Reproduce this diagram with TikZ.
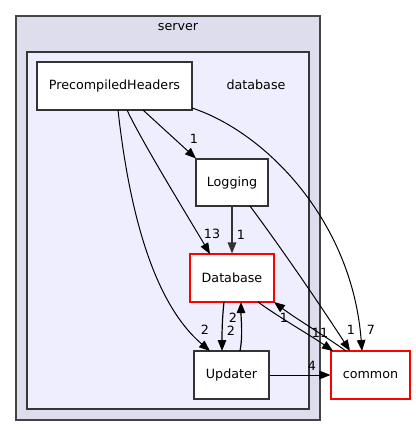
\documentclass[tikz,border=0pt]{standalone}
\usepackage{fontspec}
\setmainfont{DejaVu Sans}
\usetikzlibrary{arrows.meta}
\definecolor{outerfill}{HTML}{DDDDEE}
\definecolor{innerfill}{HTML}{EEEEFF}
\definecolor{clusterborder}{HTML}{444444}
\begin{document}
\begin{tikzpicture}[x=1pt,y=-1pt,
  every node/.style={font=\fontsize{12.7}{14}\selectfont, inner sep=0pt},
  dirbox/.style={draw=black!80, fill=white, line width=1.1pt, rectangle},
  redbox/.style={draw=red, fill=white, line width=1.1pt, rectangle},
  dep/.style={draw=black, line width=1pt, -{Triangle[length=11pt,width=8.5pt]}},
  lbl/.style={font=\fontsize{12.7}{14}\selectfont}]
\useasboundingbox (0,0) rectangle (415,436);
\fill[white] (0,0) rectangle (415,436);
% clusters
\draw[fill=outerfill, draw=clusterborder, line width=1.5pt] (16,16) rectangle (320,420);
\node at (178,27) {server};
\draw[fill=innerfill, draw=clusterborder!80!black, line width=1.2pt] (27,52) rectangle (309,409);
\node at (256,85) {database};
% nodes
\node[dirbox, minimum width=155pt, minimum height=48pt] (ph) at (114.5,86) {PrecompiledHeaders};
\node[dirbox, minimum width=72pt, minimum height=47pt] (log) at (232,182.5) {Logging};
\node[redbox, minimum width=84pt, minimum height=48pt] (db) at (232,278) {Database};
\node[dirbox, minimum width=75pt, minimum height=48pt] (upd) at (231.5,375) {Updater};
\node[redbox, minimum width=79pt, minimum height=48pt] (com) at (370.5,375) {common};
% coordinates for edge ends
\coordinate (phA) at (143,110);
\coordinate (phB) at (127,110);
\coordinate (phC) at (118,110);
\coordinate (phD) at (192,108);
% edges
\draw[dep] (phA) -- (196,158.5);
\draw[dep] (phB) .. controls (142,142) and (190,220) .. (210,254);
\draw[dep] (phC) .. controls (128,200) and (150,300) .. (210,351);
\draw[dep] (phD) .. controls (265,132) and (352,220) .. (362,351);
\draw[dep, line width=1.4pt, draw=black!80] (log.south) -- (db.north);
\draw[dep] (250,206) .. controls (290,260) and (330,320) .. (350,351);
\draw[dep, line width=1.2pt] (224,302) .. controls (222,320) and (222,335) .. (222,351);
\draw[dep, line width=1.2pt] (240,351) .. controls (243,335) and (241,320) .. (241,302);
\draw[dep] (258,302) .. controls (280,318) and (310,335) .. (333,351);
\draw[dep] (346,351) .. controls (325,336) and (295,318) .. (274,302);
\draw[dep] (upd.east) -- (com.west);
% labels
\node[lbl] at (194,139) {1};
\node[lbl] at (212,234) {13};
\node[lbl] at (241,235) {1};
\node[lbl] at (205,330) {2};
\node[lbl] at (233,318) {2};
\node[lbl] at (231,331) {2};
\node[lbl] at (284,318) {1};
\node[lbl] at (320,333) {11};
\node[lbl] at (351,330) {1};
\node[lbl] at (371,330) {7};
\node[lbl] at (312,366) {4};
\end{tikzpicture}
\end{document}
